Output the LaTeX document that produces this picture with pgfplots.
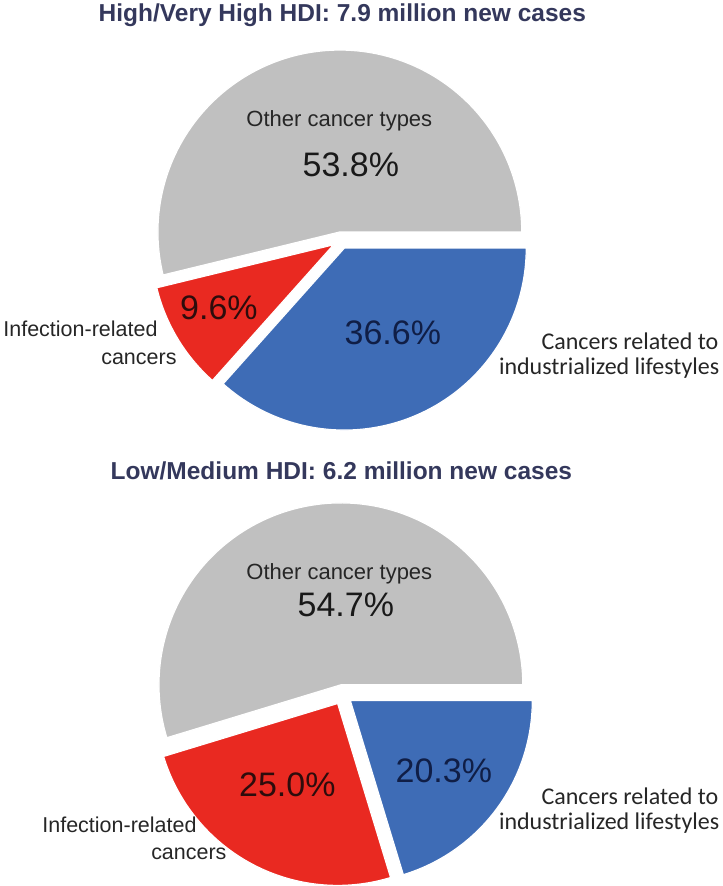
\documentclass[border=0pt]{standalone}
\usepackage{fontspec}
\setmainfont{Liberation Sans}
\newfontfamily\calibrifont{Carlito}
\usepackage{pgfplots}
\usepackage{pgfplotstable}
\pgfplotsset{compat=1.18}

\definecolor{pieGrey}{RGB}{192,192,192}
\definecolor{pieRed}{RGB}{233,41,33}
\definecolor{pieBlue}{RGB}{62,108,182}
\definecolor{titleInk}{RGB}{52,56,92}
\definecolor{labelInk}{RGB}{38,38,38}
\definecolor{redInk}{RGB}{45,12,12}
\definecolor{blueInk}{RGB}{16,30,70}

% Shares of new cancer cases (percent): other, infection-related, lifestyle-related
\pgfplotstableread{
share
53.8
9.6
36.6
}\highhdi
\pgfplotstableread{
share
54.7
25.0
20.3
}\lowhdi

% One exploded pie wedge: centre x, centre y, radius, explode distance,
% start angle, end angle, fill colour (coordinates in a y-down frame)
\newcommand\pieslice[7]{%
  \pgfmathsetmacro\midang{(#5+#6)/2}%
  \pgfmathsetmacro\apx{#1+#4*cos(\midang)}%
  \pgfmathsetmacro\apy{#2-#4*sin(\midang)}%
  \edef\tmp{\noexpand\addplot[fill=#7, draw=white, line width=0.6pt,
      domain=#5:#6, samples=120, variable=\noexpand\t]
    ({\apx+#3*cos(\noexpand\t)}, {\apy-#3*sin(\noexpand\t)})
    -- (axis cs:\apx,\apy) -- cycle;}%
  \tmp
}

\begin{document}
\begin{tikzpicture}
\begin{axis}[
  scale only axis, width=361.5pt, height=443pt,
  xmin=0, xmax=723, ymin=0, ymax=886, y dir=reverse,
  hide axis, clip=false]
\path (rel axis cs:0,0) rectangle (rel axis cs:1,1);

% ---- High / very high HDI ----
\pgfplotstablegetelem{0}{share}\of\highhdi \let\hA\pgfplotsretval
\pgfplotstablegetelem{1}{share}\of\highhdi \let\hB\pgfplotsretval
\pgfplotstablegetelem{2}{share}\of\highhdi \let\hC\pgfplotsretval
\pgfmathsetmacro\hAend{3.6*\hA}
\pgfmathsetmacro\hBend{3.6*(\hA+\hB)}
\pieslice{341}{240.5}{182}{8.5}{0}{\hAend}{pieGrey}
\pieslice{341}{240.5}{182}{8.5}{\hAend}{\hBend}{pieRed}
\pieslice{341}{240.5}{182}{8.5}{\hBend}{360}{pieBlue}

% ---- Low / medium HDI ----
\pgfplotstablegetelem{0}{share}\of\lowhdi \let\lA\pgfplotsretval
\pgfplotstablegetelem{1}{share}\of\lowhdi \let\lB\pgfplotsretval
\pgfplotstablegetelem{2}{share}\of\lowhdi \let\lC\pgfplotsretval
\pgfmathsetmacro\lAend{3.6*\lA}
\pgfmathsetmacro\lBend{3.6*(\lA+\lB)}
\pieslice{342.5}{695}{182}{10}{0}{\lAend}{pieGrey}
\pieslice{342.5}{695}{182}{10}{\lAend}{\lBend}{pieRed}
\pieslice{342.5}{695}{182}{10}{\lBend}{360}{pieBlue}

% ---- titles ----
\node[anchor=base, inner sep=0, text=titleInk,
  font=\fontsize{12.25}{14}\selectfont\bfseries]
  at (axis cs:342.5,22) {High/Very High HDI: 7.9 million new cases};
\node[anchor=base, inner sep=0, text=titleInk,
  font=\fontsize{12.25}{14}\selectfont\bfseries]
  at (axis cs:341.5,480) {Low/Medium HDI: 6.2 million new cases};

% ---- labels, upper pie ----
\node[anchor=base, inner sep=0, text=labelInk, font=\fontsize{11}{13}\selectfont]
  at (axis cs:339.5,127) {Other cancer types};
\node[anchor=base, inner sep=0, text=black!90, font=\fontsize{17}{20}\selectfont]
  at (axis cs:351,177) {\hA\%};
\node[anchor=base, inner sep=0, text=redInk, font=\fontsize{17}{20}\selectfont]
  at (axis cs:219,320) {\hB\%};
\node[anchor=base, inner sep=0, text=blueInk, font=\fontsize{17}{20}\selectfont]
  at (axis cs:393,345) {\hC\%};
\node[anchor=base west, inner sep=0, text=labelInk, font=\fontsize{10.75}{13}\selectfont]
  at (axis cs:3,337) {Infection-related};
\node[anchor=base east, inner sep=0, text=labelInk, font=\fontsize{10.75}{13}\selectfont]
  at (axis cs:177,365) {cancers};
\node[anchor=base east, inner sep=0, text=labelInk, font=\calibrifont\fontsize{12}{14}\selectfont]
  at (axis cs:719,350) {Cancers related to};
\node[anchor=base east, inner sep=0, text=labelInk, font=\calibrifont\fontsize{12}{14}\selectfont]
  at (axis cs:720,375) {industrialized lifestyles};

% ---- labels, lower pie ----
\node[anchor=base, inner sep=0, text=labelInk, font=\fontsize{11}{13}\selectfont]
  at (axis cs:339.5,580) {Other cancer types};
\node[anchor=base, inner sep=0, text=black!90, font=\fontsize{17}{20}\selectfont]
  at (axis cs:346,617) {\lA\%};
\node[anchor=base, inner sep=0, text=redInk, font=\fontsize{17}{20}\selectfont]
  at (axis cs:287.5,797) {\lB\%};
\node[anchor=base, inner sep=0, text=blueInk, font=\fontsize{17}{20}\selectfont]
  at (axis cs:444,783) {\lC\%};
\node[anchor=base west, inner sep=0, text=labelInk, font=\fontsize{10.75}{13}\selectfont]
  at (axis cs:42,833) {Infection-related};
\node[anchor=base east, inner sep=0, text=labelInk, font=\fontsize{10.75}{13}\selectfont]
  at (axis cs:227,860) {cancers};
\node[anchor=base east, inner sep=0, text=labelInk, font=\calibrifont\fontsize{12}{14}\selectfont]
  at (axis cs:719,805) {Cancers related to};
\node[anchor=base east, inner sep=0, text=labelInk, font=\calibrifont\fontsize{12}{14}\selectfont]
  at (axis cs:720,830) {industrialized lifestyles};
\end{axis}
\end{tikzpicture}
\end{document}
